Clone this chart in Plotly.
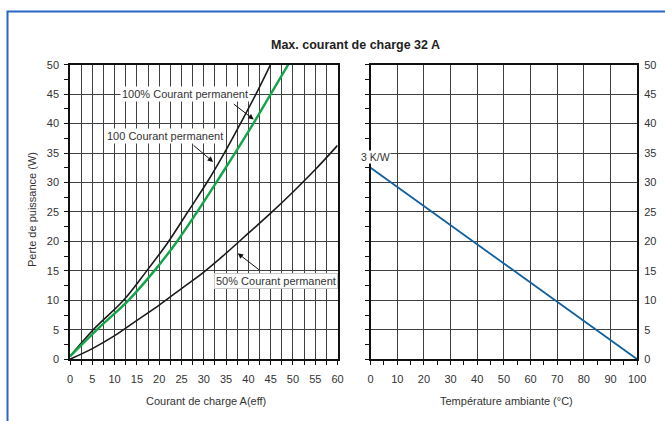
import plotly.graph_objects as go

# The photographed page is slightly rescaled; page positions are derived from reference pixels.
FW, FH = 677, 431
SX, OX = 0.982, 3.0
SY, OY = 0.977, 5.0

# ---- data ----
cur_100a = [0, 5.2, 12.0, 17.2, 22.1, 26.4, 30.7, 34.6, 38.2, 41.7, 45.2]
pw_100a = [0.5, 5, 10, 15, 20, 25, 30, 35, 40, 45, 50.4]

cur_green = [0, 6.0, 13.1, 18.9, 24.0, 28.5, 32.8, 37.0, 41.1, 45.0, 49.3]
pw_green = [0.5, 5, 10, 15, 20, 25, 30, 35, 40, 45, 50.5]

cur_50 = [0, 5, 10, 15, 20, 25, 30, 35, 40, 45, 50, 55, 60]
pw_50 = [0, 1.8, 4.0, 6.6, 9.2, 12.0, 14.8, 18.0, 21.4, 24.8, 28.4, 32.2, 36.3]

temp = [0, 100]
pw_temp = [32.5, 0]

title_txt = "Max. courant de charge 32 A"
xlab1 = "Courant de charge A(eff)"
xlab2 = "Température ambiante (°C)"
ylab = "Perte de puissance (W)"

FONT = "Liberation Sans, Arial, sans-serif"
TXT = "#333333"
GRID = "#404040"


def px(x):
    return ((x - OX) / SX) / FW


def py(y):
    return 1 - ((y - OY) / SY) / FH


fig = go.Figure()
fig.add_trace(go.Scatter(x=cur_100a, y=pw_100a, mode="lines", line=dict(color="#1a1a1a", width=1.6, shape="spline"),
                         xaxis="x", yaxis="y", cliponaxis=False, showlegend=False))
fig.add_trace(go.Scatter(x=cur_green, y=pw_green, mode="lines", line=dict(color="#12a54a", width=2.4, shape="spline"),
                         xaxis="x", yaxis="y", cliponaxis=False, showlegend=False))
fig.add_trace(go.Scatter(x=cur_50, y=pw_50, mode="lines", line=dict(color="#1a1a1a", width=1.6, shape="spline"),
                         xaxis="x", yaxis="y", cliponaxis=False, showlegend=False))
fig.add_trace(go.Scatter(x=temp, y=pw_temp, mode="lines", line=dict(color="#10609e", width=1.8),
                         xaxis="x2", yaxis="y3", cliponaxis=False, showlegend=False))

ydom = [py(360), py(64)]
tickfont = dict(family=FONT, size=11, color=TXT)

common_axis = dict(showline=True, linecolor="#111111", linewidth=1.5, mirror=True,
                   gridcolor=GRID, gridwidth=1, zeroline=False, tickfont=tickfont,
                   tickcolor="#111111", tickwidth=1.2)

fig.update_layout(
    width=FW, height=FH,
    margin=dict(l=0, r=0, t=0, b=0),
    paper_bgcolor="white", plot_bgcolor="white",
    font=dict(family=FONT, color=TXT),
    xaxis=dict(domain=[px(70), px(337.5)], range=[0, 60], dtick=5, tick0=0,
               ticks="outside", ticklen=4, showgrid=True, ticklabelstandoff=5,
               minor=dict(dtick=2.5, showgrid=True, gridcolor=GRID, ticks="outside", ticklen=4,
                          tickcolor="#111111"),
               anchor="y", **common_axis),
    yaxis=dict(domain=ydom, range=[0, 50], dtick=5, tick0=0, ticks="outside", ticklen=4,
               showgrid=True, ticklabelstandoff=3,
               minor=dict(dtick=2.5, showgrid=False, ticks="outside", ticklen=4, tickcolor="#111111"),
               anchor="x", **common_axis),
    xaxis2=dict(domain=[px(370.5), px(637)], range=[0, 100], dtick=10, tick0=0,
                ticks="outside", ticklen=4, showgrid=True, ticklabelstandoff=5,
                minor=dict(dtick=5, showgrid=False, ticks="outside", ticklen=4, tickcolor="#111111"),
                anchor="y2", **common_axis),
    yaxis2=dict(domain=ydom, range=[0, 50], dtick=5, tick0=0, ticks="outside", ticklen=4,
                showgrid=True, showticklabels=False, side="left",
                minor=dict(dtick=2.5, showgrid=False, ticks="outside", ticklen=4, tickcolor="#111111"),
                anchor="x2", **common_axis),
    yaxis3=dict(range=[0, 50], dtick=5, tick0=0, ticks="", showgrid=False, showline=False,
                overlaying="y2", side="right", anchor="x2", zeroline=False, tickfont=tickfont,
                ticklabelstandoff=6),
)

ann = []
center = dict(xanchor="center", yanchor="middle", xref="paper", yref="paper", showarrow=False)
ann.append(dict(text="<b>" + title_txt + "</b>", x=px(355), y=py(44),
                font=dict(family=FONT, size=12.5, color="#222222"), **center))
ann.append(dict(text=xlab1, x=px(206), y=py(401.5), font=dict(family=FONT, size=11, color=TXT), **center))
ann.append(dict(text=xlab2, x=px(506), y=py(401.5), font=dict(family=FONT, size=11, color=TXT), **center))
ann.append(dict(text=ylab, x=px(32), y=py(210), textangle=-90,
                font=dict(family=FONT, size=11, color=TXT), **center))

lab_font = dict(family=FONT, size=11, color=TXT)
ann.append(dict(text="100% Courant permanent", x=25.7, y=45.0, xref="x", yref="y", showarrow=False,
                xanchor="center", yanchor="middle", bgcolor="white", borderpad=1, font=lab_font))
ann.append(dict(text="100 Courant permanent", x=21.2, y=37.9, xref="x", yref="y", showarrow=False,
                xanchor="center", yanchor="middle", bgcolor="white", borderpad=1, font=lab_font))
ann.append(dict(text="50% Courant permanent", x=46.1, y=13.35, xref="x", yref="y", showarrow=False,
                xanchor="center", yanchor="middle", bgcolor="white", bordercolor="#c8c8c8",
                borderwidth=1, borderpad=1, font=lab_font))
ann.append(dict(text="3 K/W", x=1.7, y=34.3, xref="x2", yref="y2", showarrow=False,
                xanchor="center", yanchor="middle", bgcolor="white", borderpad=0,
                font=dict(family=FONT, size=10.5, color=TXT)))

arr = dict(showarrow=True, text="", arrowhead=2, arrowsize=1.1, arrowwidth=1, arrowcolor="#111111",
           xref="x", yref="y", axref="x", ayref="y", standoff=0, startstandoff=0)
ann.append(dict(x=41.2, y=40.7, ax=36.4, ay=43.5, **arr))
ann.append(dict(x=32.1, y=33.5, ax=27.4, ay=36.5, **arr))
ann.append(dict(x=37.6, y=18.0, ax=42.7, ay=15.0, **arr))

fig.update_layout(annotations=ann)

# outer blue frame (runs past the right/bottom edges as in the reference)
fig.add_shape(type="rect", xref="paper", yref="paper", x0=px(7.5), x1=1.2, y0=-0.2, y1=py(10.5),
              line=dict(color="#2a66c4", width=2), fillcolor="rgba(0,0,0,0)", layer="above")

fig.write_html("out.html", config={"displayModeBar": False},
               post_script="document.body.style.margin='0';document.body.style.overflow='hidden';")
